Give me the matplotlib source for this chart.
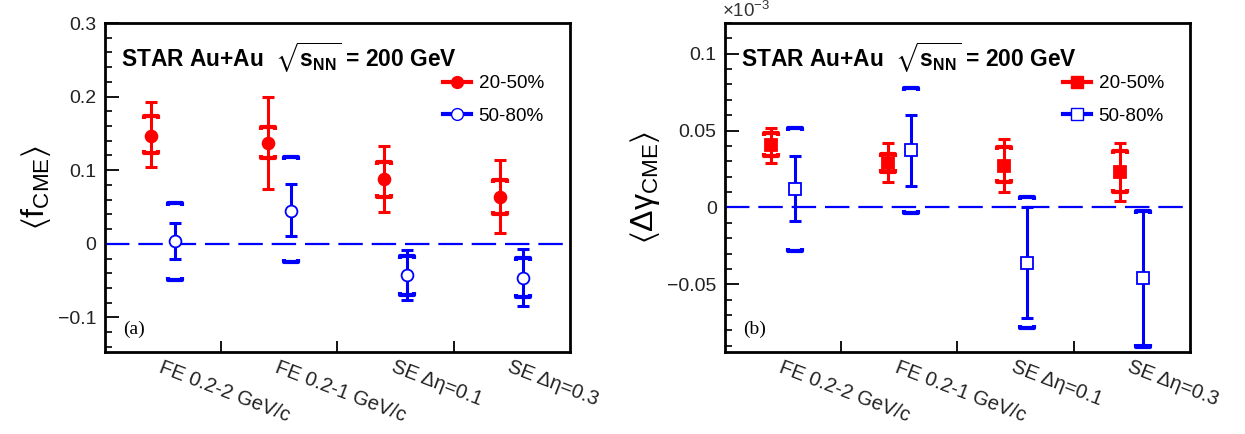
import matplotlib
matplotlib.use("Agg")
import matplotlib.pyplot as plt
from matplotlib.path import Path
from matplotlib.lines import Line2D
from matplotlib.ticker import MultipleLocator, FuncFormatter

plt.rcParams['font.family'] = ['Liberation Sans', 'DejaVu Sans']
plt.rcParams['mathtext.fontset'] = 'custom'
plt.rcParams['mathtext.rm'] = 'Liberation Sans'
plt.rcParams['mathtext.it'] = 'Liberation Sans'
plt.rcParams['mathtext.bf'] = 'Liberation Sans:bold'
plt.rcParams['mathtext.sf'] = 'Liberation Sans'
plt.rcParams['mathtext.fallback'] = 'stixsans'

# ---- data ----
categories = ["FE 0.2-2 GeV/c", "FE 0.2-1 GeV/c", "SE \u0394\u03b7=0.1", "SE \u0394\u03b7=0.3"]

# panel (a): <f_CME>
f_mid_2050 = [0.147, 0.137, 0.088, 0.063]
f_stat_lo_2050 = [0.104, 0.075, 0.043, 0.014]
f_stat_hi_2050 = [0.192, 0.199, 0.133, 0.114]
f_sys_lo_2050 = [0.123, 0.116, 0.064, 0.040]
f_sys_hi_2050 = [0.173, 0.159, 0.111, 0.086]

f_mid_5080 = [0.004, 0.045, -0.042, -0.046]
f_stat_lo_5080 = [-0.021, 0.010, -0.076, -0.085]
f_stat_hi_5080 = [0.028, 0.081, -0.008, -0.007]
f_sys_lo_5080 = [-0.049, -0.025, -0.069, -0.072]
f_sys_hi_5080 = [0.056, 0.118, -0.016, -0.019]

# panel (b): <dgamma_CME> in units of 1e-3
g_mid_2050 = [0.0404, 0.0289, 0.0272, 0.0230]
g_stat_lo_2050 = [0.0289, 0.0163, 0.0098, 0.0039]
g_stat_hi_2050 = [0.0517, 0.0420, 0.0446, 0.0420]
g_sys_lo_2050 = [0.0333, 0.0228, 0.0163, 0.0098]
g_sys_hi_2050 = [0.0485, 0.0350, 0.0393, 0.0370]

g_mid_5080 = [0.0122, 0.0372, -0.0363, -0.0461]
g_stat_lo_5080 = [-0.0087, 0.0140, -0.0722, -0.0896]
g_stat_hi_5080 = [0.0337, 0.0600, 0.0000, -0.0015]
g_sys_lo_5080 = [-0.0280, -0.0037, -0.0787, -0.0907]
g_sys_hi_5080 = [0.0520, 0.0780, 0.0067, -0.0020]

RED = '#ff0000'
BLUE = '#0000ff'

# bracket markers for systematic errors (ticks pointing to the point)
top_bracket = Path([(-1, -0.5), (-1, 0), (1, 0), (1, -0.5)],
                   [Path.MOVETO, Path.LINETO, Path.LINETO, Path.LINETO])
bot_bracket = Path([(-1, 0.5), (-1, 0), (1, 0), (1, 0.5)],
                   [Path.MOVETO, Path.LINETO, Path.LINETO, Path.LINETO])


def draw_series(ax, xs, mid, slo, shi, ylo, yhi, color, marker, filled, ms):
    lo_err = [m - l for m, l in zip(mid, slo)]
    hi_err = [h - m for m, h in zip(mid, shi)]
    ax.errorbar(xs, mid, yerr=[lo_err, hi_err], fmt='none', ecolor=color,
                elinewidth=2.2, capsize=4.5, capthick=2.2, zorder=3)
    ax.plot(xs, yhi, ls='none', marker=top_bracket, ms=10, mec=color,
            mfc='none', mew=3.0, zorder=3)
    ax.plot(xs, ylo, ls='none', marker=bot_bracket, ms=10, mec=color,
            mfc='none', mew=3.0, zorder=3)
    ax.plot(xs, mid, ls='none', marker=marker, ms=ms, mec=color,
            mfc=color if filled else 'white', mew=1.3, zorder=4)


def style_axes(ax, ylim, major, minor, fmt):
    ax.set_xlim(0, 4)
    ax.set_ylim(*ylim)
    ax.axhline(0, color=BLUE, lw=1.6, ls=(0, (11, 4)), zorder=2)
    for s in ax.spines.values():
        s.set_linewidth(2.0)
    ax.yaxis.set_major_locator(MultipleLocator(major))
    ax.yaxis.set_minor_locator(MultipleLocator(minor))
    ax.yaxis.set_major_formatter(FuncFormatter(fmt))
    ax.set_xticks([1, 2, 3])
    ax.set_xticklabels([])
    ax.set_xticks([0.5, 1.5, 2.5, 3.5], categories, minor=True)
    ax.tick_params(axis='x', which='major', direction='in', length=8, width=1.3)
    ax.tick_params(axis='x', which='minor', length=0, pad=4, labelsize=14.5,
                   labelcolor='#222222')
    for lab in ax.get_xticklabels(minor=True):
        lab.set_rotation(-21)
        lab.set_ha('left')
        lab.set_va('top')
        lab.set_rotation_mode('anchor')
    ax.tick_params(axis='y', which='major', direction='in', length=10, width=1.3,
                   labelsize=14, labelcolor='#222222', pad=6)
    ax.tick_params(axis='y', which='minor', direction='in', length=5, width=1.2)
    ax.text(0.035, 0.895, r'STAR Au+Au  $\sqrt{\mathbf{s}_{\mathbf{NN}}}$ = 200 GeV',
            transform=ax.transAxes, fontsize=16.4, fontweight='bold', va='center')


def fmt_a(v, pos):
    return ('%g' % round(v, 3)).replace('-', '\u2212')


fig = plt.figure(figsize=(12.45, 4.34), dpi=100)
axa = fig.add_axes([0.0843, 0.189, 0.3735, 0.758])
axb = fig.add_axes([0.5823, 0.189, 0.3735, 0.758])

xr = [i + 0.4 for i in range(4)]
xb = [i + 0.6 for i in range(4)]

style_axes(axa, (-0.147, 0.3), 0.1, 0.02, fmt_a)
draw_series(axa, xr, f_mid_2050, f_stat_lo_2050, f_stat_hi_2050,
            f_sys_lo_2050, f_sys_hi_2050, RED, 'o', True, 8.5)
draw_series(axa, xb, f_mid_5080, f_stat_lo_5080, f_stat_hi_5080,
            f_sys_lo_5080, f_sys_hi_5080, BLUE, 'o', False, 8.5)
axa.set_ylabel(r'$\langle\mathrm{f}_{\mathrm{CME}}\rangle$', fontsize=23, labelpad=4)
axa.text(0.04, 0.07, '(a)', transform=axa.transAxes, fontsize=14,
         family='Liberation Serif', va='center')

style_axes(axb, (-0.094, 0.12), 0.05, 0.01, fmt_a)
draw_series(axb, xr, g_mid_2050, g_stat_lo_2050, g_stat_hi_2050,
            g_sys_lo_2050, g_sys_hi_2050, RED, 's', True, 8)
draw_series(axb, xb, g_mid_5080, g_stat_lo_5080, g_stat_hi_5080,
            g_sys_lo_5080, g_sys_hi_5080, BLUE, 's', False, 8.5)
axb.set_ylabel(r'$\langle\Delta\gamma_{\mathrm{CME}}\rangle$', fontsize=23, labelpad=4)
axb.text(0.04, 0.07, '(b)', transform=axb.transAxes, fontsize=14,
         family='Liberation Serif', va='center')
axb.text(-0.007, 1.005, r'$\times$10$^{-3}$', transform=axb.transAxes, fontsize=13.5,
         color='#333333', va='bottom', ha='left')

for ax, mk in ((axa, 'o'), (axb, 's')):
    handles = [Line2D([], [], color=RED, lw=3, marker=mk, ms=8.5, mfc=RED, mec=RED),
               Line2D([], [], color=BLUE, lw=3, marker=mk, ms=8.5, mfc='white', mec=BLUE)]
    ax.legend(handles, ['20-50%', '50-80%'], loc='upper left',
              bbox_to_anchor=(0.71, 0.865), frameon=False, fontsize=13.6,
              handlelength=1.5, handletextpad=0.4, labelspacing=0.8,
              borderaxespad=0)

fig.savefig('out.png', dpi=100)
